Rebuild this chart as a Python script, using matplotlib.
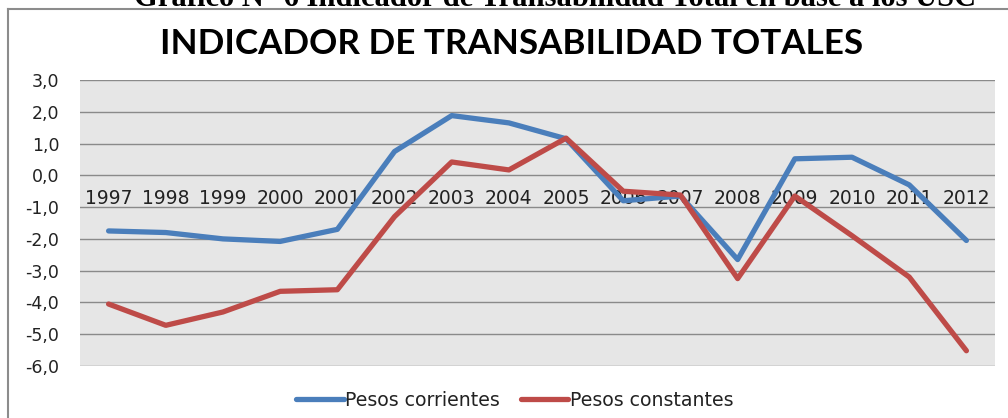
import matplotlib.pyplot as plt
from matplotlib.ticker import FuncFormatter, MultipleLocator

years = [str(y) for y in range(1997, 2013)]
pesos_corrientes = [-1.75, -1.80, -2.00, -2.08, -1.70, 0.75, 1.88, 1.65, 1.15,
                    -0.80, -0.65, -2.65, 0.52, 0.57, -0.30, -2.05]
pesos_constantes = [-4.05, -4.72, -4.30, -3.65, -3.60, -1.30, 0.42, 0.17, 1.17,
                    -0.50, -0.62, -3.25, -0.65, -1.90, -3.20, -5.52]

BLUE = "#4A7EBB"
RED = "#BE4B48"

W, H = 1008, 418
fig = plt.figure(figsize=(W / 100, H / 100), dpi=100)

# chart area border (only top and left visible in the crop)
fig.add_artist(plt.Line2D([8 / W, 1.0], [1 - 9 / H, 1 - 9 / H], color="#8c8c8c", lw=1.5))
fig.add_artist(plt.Line2D([8 / W, 8 / W], [0, 1 - 9 / H], color="#8c8c8c", lw=1.5))

# document caption above the chart, cut by the top edge as in the source
fig.text(555 / W, 1 - 6 / H, "Gráfico N° 6 Indicador de Transabilidad Total en base a los USC",
         ha="center", va="baseline", fontsize=22, fontweight="bold",
         family=["Liberation Serif", "DejaVu Serif"])

left, right, top, bottom = 80, 995, 80, 366
ax = fig.add_axes([left / W, 1 - bottom / H, (right - left) / W, (bottom - top) / H])
ax.set_facecolor("#E6E6E6")

x = list(range(len(years)))
ax.plot(x, pesos_corrientes, color=BLUE, lw=3.8, solid_capstyle="round",
        solid_joinstyle="round", label="Pesos corrientes", zorder=3)
ax.plot(x, pesos_constantes, color=RED, lw=3.8, solid_capstyle="round",
        solid_joinstyle="round", label="Pesos constantes", zorder=3)

ax.set_xlim(-0.5, len(years) - 0.5)
ax.set_ylim(-6, 3)
ax.yaxis.set_major_locator(MultipleLocator(1))
ax.yaxis.set_major_formatter(FuncFormatter(lambda v, p: f"{v:.1f}".replace(".", ",")))
ax.grid(axis="y", color="#8a8a8a", lw=1)
ax.set_axisbelow(True)

for s in ax.spines.values():
    s.set_visible(False)
ax.spines["bottom"].set_position(("data", 0))

ax.set_xticks(x)
ax.set_xticklabels(years)
ax.tick_params(axis="x", length=0, pad=10, labelsize=13.5, labelcolor="#222222")
ax.tick_params(axis="y", length=0, pad=15, labelsize=12.5, labelcolor="#222222")

fig.text(512 / W, 1 - 44 / H, "INDICADOR DE TRANSABILIDAD TOTALES", ha="center", va="center",
         fontsize=25.2, fontweight="bold", family=["Lato", "DejaVu Sans"])

fig.legend(loc="center", bbox_to_anchor=(515 / W, 1 - 400 / H), ncol=2, frameon=False,
           fontsize=13.6, handlelength=2.5, handletextpad=0.1, columnspacing=1.1,
           labelcolor="#222222")

fig.savefig("out.png", dpi=100)
